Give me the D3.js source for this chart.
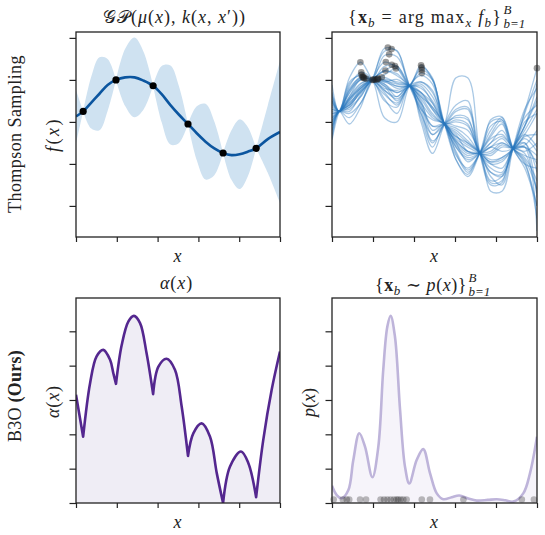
<!DOCTYPE html>
<html>
<head>
<meta charset="utf-8">
<script src="https://cdn.jsdelivr.net/npm/d3@7"></script>
<style>
  body { margin: 0; background: #fff; }
  svg { display: block; }
</style>
</head>
<body>
<div id="chart"></div>
<script>
// observations (shared x for both top panels and the cusps of alpha)
const obsX = [0.035, 0.196, 0.378, 0.549, 0.721, 0.883];
const obsF = [0.25, 1.0, 0.86, -0.05, -0.74, -0.63];

// GP posterior mean and 2-sigma half width
const gpX = [0, 0.035, 0.075, 0.115, 0.155, 0.196, 0.241, 0.287, 0.332, 0.378, 0.420, 0.463, 0.505, 0.549, 0.592, 0.635, 0.678, 0.721, 0.762, 0.802, 0.842, 0.883, 0.94, 1.0];
const gpMean = [0.13, 0.25, 0.46, 0.67, 0.88, 1.0, 1.06, 1.06, 0.98, 0.86, 0.66, 0.4, 0.17, -0.05, -0.27, -0.47, -0.63, -0.74, -0.79, -0.77, -0.71, -0.63, -0.41, -0.24];
const gpBand = [0.63, 0, 0.62, 0.87, 0.62, 0, 0.68, 0.95, 0.68, 0, 0.67, 0.94, 0.67, 0, 0.64, 0.9, 0.64, 0, 0.59, 0.83, 0.59, 0, 0.8, 1.69];

// Thompson samples f_b, values at sampleX
const sampleX = [0, 0.035, 0.085, 0.14, 0.196, 0.256, 0.317, 0.378, 0.434, 0.49, 0.549, 0.605, 0.662, 0.721, 0.774, 0.829, 0.883, 0.94, 1.0];
const samples = [
  [0.3, 0.25, 0.45, 0.72, 1.0, 1.75, 1.68, 0.86, 0.3, -0.45, -0.05, 1.05, 1.05, -0.74, -1.5, -1.45, -0.63, -0.7, -0.5],
  [0.0, 0.25, 0.2, 0.45, 1.0, 1.68, 1.7, 0.86, 0.7, 0.35, -0.05, -0.6, -0.9, -0.74, -0.4, -0.3, -0.63, -0.9, -1.6],
  [0.5, 0.25, 0.75, 1.0, 1.0, 1.58, 1.55, 0.86, 0.2, -0.5, -0.05, 0.1, 0.05, -0.74, -1.2, -1.3, -0.63, -0.1, 0.6],
  [-0.2, 0.25, 0.1, 0.45, 1.0, 1.42, 1.28, 0.86, 0.9, 0.6, -0.05, -0.5, -0.95, -0.74, -0.5, -0.35, -0.63, -1.0, -2.0],
  [0.6, 0.25, 0.95, 1.1, 1.0, 1.32, 1.33, 0.86, 0.45, -0.1, -0.05, 0.25, 0.3, -0.74, -1.0, -0.95, -0.63, -0.2, 0.3],
  [0.1, 0.25, 0.4, 0.7, 1.0, 1.22, 1.32, 0.86, 0.85, 0.45, -0.05, -0.7, -1.15, -0.74, -0.3, 0.05, -0.63, -0.85, -1.4],
  [0.35, 0.25, 0.55, 0.85, 1.0, 1.12, 1.27, 0.86, 0.6, 0.2, -0.05, 0.0, -0.1, -0.74, -1.1, -1.2, -0.63, -0.55, -0.2],
  [-0.4, 0.25, -0.05, 0.35, 1.0, 0.95, 1.01, 0.86, 0.95, 0.7, -0.05, -0.6, -0.85, -0.74, -0.6, -0.4, -0.63, -0.3, 0.2],
  [0.2, 0.25, 0.5, 0.8, 1.0, 1.22, 1.1, 0.86, 0.45, 0.1, -0.05, -0.35, -0.5, -0.74, -1.3, -1.5, -0.63, -0.1, 0.9],
  [-0.1, 0.25, 0.25, 0.65, 1.0, 1.06, 0.92, 0.86, 0.3, 0.05, -0.05, -0.75, -1.2, -0.74, -0.2, 0.1, -0.63, -1.0, -1.1],
  [0.7, 0.25, 1.05, 1.42, 1.0, 0.65, 0.45, 0.86, 0.95, 0.75, -0.05, -0.25, -0.5, -0.74, -0.95, -0.85, -0.63, -0.1, 0.5],
  [0.5, 0.25, 0.85, 1.18, 1.0, 0.1, 0.0, 0.86, 1.1, 0.9, -0.05, -0.3, -0.7, -0.74, -0.5, -0.2, -0.63, -0.8, -0.9],
  [0.88, 0.25, 0.75, 1.08, 1.0, 0.5, 0.35, 0.86, 0.5, -0.2, -0.05, -0.55, -0.8, -0.74, -1.0, -1.1, -0.63, -0.3, -0.6],
  [-0.43, 0.25, 0.68, 1.0, 1.0, 0.75, 0.6, 0.86, 0.35, -0.1, -0.05, -0.4, -0.6, -0.74, -0.8, -0.6, -0.63, -0.6, -2.6],
  [0.25, 0.25, 0.6, 0.92, 1.0, 0.98, 0.8, 0.86, 0.65, 0.3, -0.05, -0.5, -0.75, -0.74, -0.7, -0.5, -0.63, -0.5, -1.2],
  [0.15, 0.25, 0.4, 0.7, 1.0, 0.95, 0.85, 0.86, 1.35, 1.0, -0.05, -0.9, -1.25, -0.74, -0.35, -0.05, -0.63, -0.6, -0.8],
  [0.0, 0.25, 0.45, 0.75, 1.0, 1.2, 1.15, 0.86, 1.3, 1.05, -0.05, -0.2, -0.45, -0.74, -1.2, -1.25, -0.63, 0.2, 1.0],
  [0.4, 0.25, 0.55, 0.8, 1.0, 0.75, 0.55, 0.86, 1.24, 1.02, -0.05, -0.45, -0.7, -0.74, 0.05, 0.12, -0.63, -1.1, -2.0],
  [-0.2, 0.25, 0.3, 0.6, 1.0, 0.85, 0.7, 0.86, 1.16, 1.0, -0.05, -0.35, -0.55, -0.74, -1.65, -1.65, -0.63, 0.3, 0.8],
  [0.1, 0.25, 0.5, 0.85, 1.0, 0.98, 0.9, 0.86, 0.55, 0.15, -0.05, -0.15, -0.35, -0.74, -0.95, -0.9, -0.63, 0.25, 1.28],
  [0.55, 0.25, 0.7, 1.05, 1.0, 0.9, 0.7, 0.86, 0.0, -0.75, -0.05, 0.4, 0.5, -0.74, -0.6, -0.7, -0.63, -0.35, -0.3],
  [-0.3, 0.25, 0.4, 0.8, 1.0, 1.0, 0.85, 0.86, 0.7, 0.45, -0.05, 0.15, 0.1, -0.74, -0.6, -0.5, -0.63, -0.75, -1.7],
  [0.2, 0.25, 0.55, 0.9, 1.0, 0.9, 0.6, 0.86, 0.1, -0.6, -0.05, -0.1, -0.2, -0.74, -1.4, -1.3, -0.63, 0.1, 0.4],
  [0.45, 0.25, 0.8, 1.05, 1.0, 0.7, 0.4, 0.86, 0.8, 0.5, -0.05, -0.8, -1.1, -0.74, -0.1, 0.0, -0.63, -0.4, -0.7],
  [-0.1, 0.25, 0.35, 0.75, 1.0, 0.85, 0.5, 0.86, 0.4, -0.3, -0.05, 0.3, 0.35, -0.74, -1.45, -1.4, -0.63, -0.5, -1.8],
  [0.05, 0.25, 0.6, 1.02, 1.0, 0.8, 0.75, 0.86, 0.6, 0.35, -0.05, -0.9, -1.3, -0.74, 0.0, 0.05, -0.63, -0.95, -2.3],
  [0.3, 0.25, 0.35, 0.6, 1.0, 1.02, 0.95, 0.86, 0.2, -0.3, -0.05, -0.45, -0.7, -0.74, -0.9, -0.85, -0.63, 0.0, 0.2],
  [0.65, 0.25, 0.9, 1.12, 1.0, 0.55, 0.2, 0.86, 0.7, 0.3, -0.05, 0.05, -0.05, -0.74, -0.75, -0.55, -0.63, -0.6, -1.0]
];

// acquisition alpha(x), cusps at the observations
const alphaX = [0, 0.035, 0.069, 0.101, 0.134, 0.167, 0.183, 0.196, 0.224, 0.257, 0.284, 0.314, 0.346, 0.378, 0.404, 0.444, 0.485, 0.518, 0.549, 0.575, 0.616, 0.657, 0.69, 0.721, 0.755, 0.809, 0.845, 0.883, 0.918, 0.959, 1.0];
const alphaVal = [3.15, 1.93, 3.49, 4.27, 4.46, 4.17, 3.78, 3.47, 4.6, 5.29, 5.45, 5.24, 4.36, 3.17, 3.97, 4.2, 3.88, 2.81, 1.37, 2.03, 2.32, 1.93, 0.87, 0.0, 1.06, 1.5, 1.16, 0.17, 1.84, 3.29, 4.41];

// sampling density p(x) and the drawn batch
const pX = [0, 0.023, 0.047, 0.08, 0.104, 0.133, 0.161, 0.197, 0.226, 0.25, 0.27, 0.286, 0.307, 0.332, 0.356, 0.377, 0.413, 0.445, 0.478, 0.511, 0.543, 0.584, 0.621, 0.665, 0.706, 0.76, 0.803, 0.845, 0.884, 0.933, 0.966, 1.0];
const pVal = [0.5, 0.23, 0.14, 0.38, 1.25, 2.03, 1.64, 0.75, 1.64, 3.88, 5.14, 5.45, 4.85, 2.71, 1.06, 0.57, 1.25, 1.57, 0.87, 0.28, 0.11, 0.17, 0.22, 0.13, 0.07, 0.09, 0.11, 0.08, 0.04, 0.28, 0.87, 1.93];
const batchX = [0.008, 0.053, 0.072, 0.084, 0.137, 0.166, 0.237, 0.254, 0.27, 0.286, 0.302, 0.315, 0.323, 0.335, 0.348, 0.364, 0.438, 0.478, 0.641, 0.926, 0.985];
const batchY = 0.1;

const fTicks = [-2, -1, 0, 1, 2];
const aTicks = [0, 1, 2, 3, 4, 5];
const xTicks = [0, 0.2, 0.4, 0.6, 0.8, 1.0];

const width = 545, height = 535;
const serif = "'Liberation Serif', 'DejaVu Serif', serif";

const svg = d3.select("#chart").append("svg")
  .attr("width", width).attr("height", height)
  .style("font-family", serif);

const colL = [76, 280], colR = [332, 537];
const rowT = [237, 32], rowB = [503, 298];

const xL = d3.scaleLinear().domain([0, 1]).range(colL);
const xR = d3.scaleLinear().domain([0, 1]).range(colR);
const yF = d3.scaleLinear().domain([-2.74, 2.14]).range(rowT);
const yA = d3.scaleLinear().domain([0, 5.97]).range(rowB);

const defs = svg.append("defs");
function clip(id, xs, ys) {
  defs.append("clipPath").attr("id", id).append("rect")
    .attr("x", xs.range()[0]).attr("y", ys.range()[1])
    .attr("width", xs.range()[1] - xs.range()[0])
    .attr("height", ys.range()[0] - ys.range()[1]);
  return svg.append("g").attr("clip-path", `url(#${id})`);
}

function frame(xs, ys, yt) {
  const g = svg.append("g");
  g.append("g").attr("transform", `translate(0,${ys.range()[0]})`)
    .call(d3.axisBottom(xs).tickValues(xTicks).tickSize(5).tickFormat(""));
  g.append("g").attr("transform", `translate(${xs.range()[0]},0)`)
    .call(d3.axisLeft(ys).tickValues(yt).tickSize(6.5).tickFormat(""));
  g.selectAll(".domain").remove();
  g.selectAll(".tick line").attr("stroke", "#222").attr("stroke-width", 1.2);
  g.append("rect")
    .attr("x", xs.range()[0]).attr("y", ys.range()[1])
    .attr("width", xs.range()[1] - xs.range()[0])
    .attr("height", ys.range()[0] - ys.range()[1])
    .attr("fill", "none").attr("stroke", "#222").attr("stroke-width", 1.3);
}

// split point list into segments that break where test is true
function splitAt(pts, test) {
  const segs = [];
  let cur = [];
  pts.forEach((p, i) => {
    cur.push(p);
    if (test(p, i) && cur.length > 1) { segs.push(cur); cur = [p]; }
  });
  if (cur.length > 1) segs.push(cur);
  return segs;
}

// math-ish text: parts = [text, style, attrs]; stretched to span `len` px centred on (cx, cy)
function mathText(cx, cy, parts, len, opts = {}) {
  const g = svg.append("g").attr("transform",
    `translate(${cx},${cy})` + (opts.rotate ? " rotate(-90)" : ""));
  const t = g.append("text").attr("x", 0).attr("y", 0)
    .attr("font-size", opts.size || 18).attr("fill", "#222");
  let n = 0;
  parts.forEach(([s, st, extra]) => {
    const ts = t.append("tspan").text(s);
    n += s.length;
    if (st && st.includes("i")) ts.attr("font-style", "italic");
    if (st && st.includes("b")) ts.attr("font-weight", "bold");
    if (extra) Object.entries(extra).forEach(([k, v]) => ts.attr(k, v));
  });
  const w0 = t.node().getBBox().width;
  t.attr("letter-spacing", ((len - w0) / n).toFixed(2));
  t.attr("x", -len / 2);
  return { g, t, end: len / 2 };
}

// stacked super/subscript placed after a text
function scripts(host, sup, sub, base) {
  const x = host.end + 1.5;
  host.g.append("text").attr("x", x).attr("y", base - 9.5).attr("font-size", 13)
    .attr("font-style", "italic").attr("fill", "#222").text(sup);
  host.g.append("text").attr("x", x).attr("y", base + 4.8).attr("font-size", 13)
    .attr("font-style", "italic").attr("fill", "#222").text(sub);
}

// ---------- top-left: GP posterior ----------
const gTL = clip("cTL", xL, yF);
const gpPts = gpX.map((x, i) => ({ x, m: gpMean[i], s: gpBand[i] }));
const bandArea = d3.area().x(d => xL(d.x)).y0(d => yF(d.m - d.s)).y1(d => yF(d.m + d.s))
  .curve(d3.curveCatmullRom.alpha(0.5));
splitAt(gpPts, d => d.s === 0).forEach(seg => {
  gTL.append("path").attr("d", bandArea(seg)).attr("fill", "#cfe2f1");
});
gTL.append("path")
  .attr("d", d3.line().x(d => xL(d.x)).y(d => yF(d.m)).curve(d3.curveCatmullRom.alpha(0.5))(gpPts))
  .attr("fill", "none").attr("stroke", "#0b559f").attr("stroke-width", 2.6);
gTL.selectAll("circle.obs").data(obsX).join("circle")
  .attr("cx", d => xL(d)).attr("cy", (d, i) => yF(obsF[i])).attr("r", 3.6).attr("fill", "#000");
frame(xL, yF, fTicks);

// ---------- top-right: Thompson samples ----------
const gTR = clip("cTR", xR, yF);
const sLine = d3.line().x((d, i) => xR(sampleX[i])).y(d => yF(d)).curve(d3.curveCatmullRom.alpha(0.5));
const sPaths = gTR.selectAll("path.s").data(samples).join("path")
  .attr("d", sLine).attr("fill", "none")
  .attr("stroke", "#2a78bd").attr("stroke-opacity", 0.4).attr("stroke-width", 1.3);
// argmax of every sample path
const argmax = [];
sPaths.each(function () {
  const L = this.getTotalLength();
  let best = null;
  for (let k = 0; k <= 600; k++) {
    const p = this.getPointAtLength(L * k / 600);
    if (!best || p.y < best.y) best = p;
  }
  argmax.push(best);
});
svg.append("g").selectAll("circle").data(argmax).join("circle")
  .attr("cx", d => d.x).attr("cy", d => d.y).attr("r", 3.3)
  .attr("fill", "#222").attr("fill-opacity", 0.45);
frame(xR, yF, fTicks);

// ---------- bottom-left: alpha(x) ----------
const gBL = clip("cBL", xL, yA);
const aPts = alphaX.map((x, i) => ({ x, v: alphaVal[i] }));
const aLine = d3.line().x(d => xL(d.x)).y(d => yA(d.v)).curve(d3.curveCatmullRom.alpha(0.5));
const aPath = splitAt(aPts, d => obsX.includes(d.x))
  .map((seg, k) => k === 0 ? aLine(seg) : aLine(seg).replace(/^M/, "L")).join("");
gBL.append("path").attr("d", aPath + `L${xL(1)},${yA(0)}L${xL(0)},${yA(0)}Z`).attr("fill", "#efedf5");
gBL.append("path").attr("d", aPath).attr("fill", "none")
  .attr("stroke", "#54278f").attr("stroke-width", 2.6).attr("stroke-linejoin", "round");
frame(xL, yA, aTicks);

// ---------- bottom-right: p(x) ----------
const gBR = clip("cBR", xR, yA);
const pPts = pX.map((x, i) => ({ x, v: pVal[i] }));
gBR.append("path")
  .attr("d", d3.area().x(d => xR(d.x)).y0(yA(0)).y1(d => yA(d.v)).curve(d3.curveCatmullRom.alpha(0.5))(pPts))
  .attr("fill", "#f6f4fa");
gBR.append("path")
  .attr("d", d3.line().x(d => xR(d.x)).y(d => yA(d.v)).curve(d3.curveCatmullRom.alpha(0.5))(pPts))
  .attr("fill", "none").attr("stroke", "#beb4da").attr("stroke-width", 2.6);
svg.append("g").selectAll("circle").data(batchX).join("circle")
  .attr("cx", d => xR(d)).attr("cy", yA(batchY)).attr("r", 3.3)
  .attr("fill", "#222").attr("fill-opacity", 0.3);
frame(xR, yA, aTicks);

// ---------- titles and labels ----------
const sub = { "font-size": 13, dy: 3.5 };
const back = { dy: -3.5 };
mathText(175.5, 23, [["\u{1D4A2}\u{1D4AB}", ""], ["(", ""], ["\u03BC", "i"], ["(", ""], ["x", "i"], ["), ", ""],
  ["k", "i"], ["(", ""], ["x", "i"], [", ", ""], ["x", "i"], ["\u2032))", ""]], 145);
const trTitle = mathText(425, 23, [["{", ""], ["x", "b"], ["b", "i", sub],
  [" = arg max", "", back], ["x", "i", sub], [" ", "", back],
  ["f", "i"], ["b", "i", sub], ["}", "", back]], 154);
scripts(trTitle, "B", "b=1", 0);
mathText(176.5, 289, [["\u03B1", "i"], ["(", ""], ["x", "i"], [")", ""]], 33);
const brTitle = mathText(421, 291, [["{", ""], ["x", "b"], ["b", "i", sub],
  [" \u223C ", "", back], ["p", "i"], ["(", ""], ["x", "i"], [")}", ""]], 92);
scripts(brTitle, "B", "b=1", 0);

[178, 434.5].forEach(cx => {
  mathText(cx, 262, [["x", "i"]], 9);
  mathText(cx, 528, [["x", "i"]], 9);
});
mathText(59, 134.5, [["f", "i"], ["(", ""], ["x", "i"], [")", ""]], 35, { rotate: true });
mathText(59, 401.5, [["\u03B1", "i"], ["(", ""], ["x", "i"], [")", ""]], 33, { rotate: true });
mathText(315, 401.5, [["p", "i"], ["(", ""], ["x", "i"], [")", ""]], 31, { rotate: true });

mathText(21, 134, [["Thompson Sampling", ""]], 158, { rotate: true, size: 18 });
mathText(21, 396, [["B3O ", ""], ["(Ours)", "b"]], 92, { rotate: true, size: 18 });
</script>
</body>
</html>
